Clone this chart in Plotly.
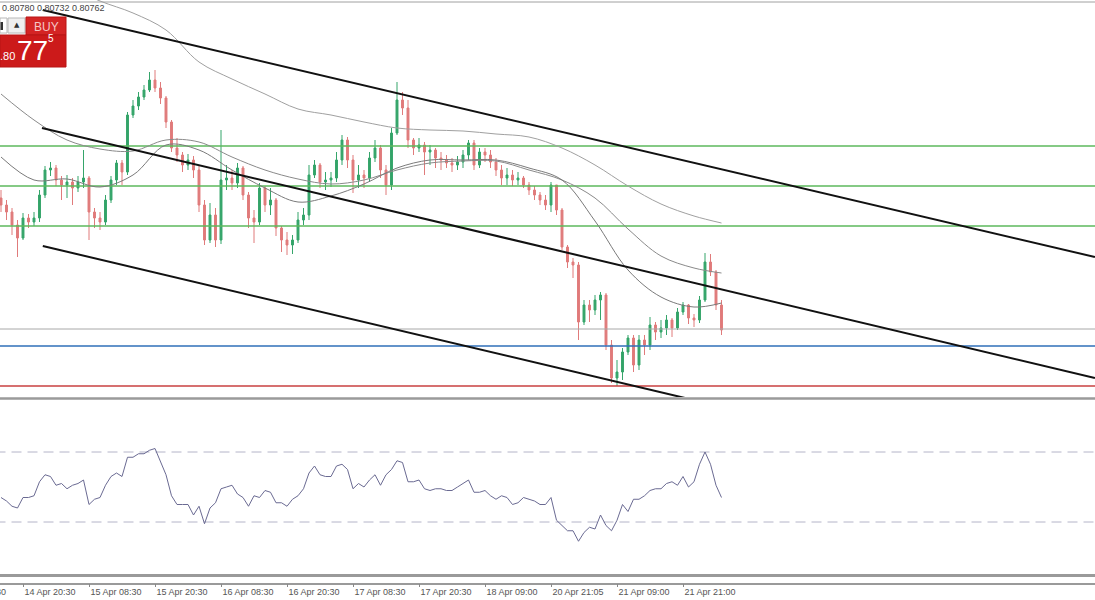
import plotly.graph_objects as go

# ---------------- data ----------------
first_open = 0.8202
close = [0.8195,0.8188,0.8175,0.8162,0.8182,0.8178,0.8182,0.8205,0.8230,0.8232,
         0.8220,0.8215,0.8218,0.8212,0.8218,0.8222,0.8188,0.8182,0.8178,0.8200,
         0.8220,0.8237,0.8228,0.8285,0.8294,0.8303,0.8310,0.8320,0.8312,0.8302,
         0.8278,0.8252,0.8245,0.8235,0.8240,0.8230,0.8195,0.8160,0.8185,0.8160,
         0.8220,0.8222,0.8217,0.8232,0.8205,0.8182,0.8178,0.8212,0.8195,0.8200,
         0.8172,0.8160,0.8155,0.8160,0.8180,0.8185,0.8225,0.8235,0.8218,0.8220,
         0.8222,0.8240,0.8260,0.8240,0.8220,0.8225,0.8222,0.8242,0.8252,0.8230,
         0.8215,0.8267,0.8300,0.8292,0.8260,0.8252,0.8255,0.8248,0.8250,0.8242,
         0.8240,0.8237,0.8235,0.8238,0.8245,0.8257,0.8235,0.8248,0.8245,0.8238,
         0.8230,0.8222,0.8225,0.8220,0.8222,0.8215,0.8210,0.8205,0.8200,0.8195,
         0.8215,0.8190,0.8153,0.8138,0.8135,0.8078,0.8095,0.8090,0.8100,0.8105,
         0.8055,0.8022,0.8028,0.8048,0.8062,0.8035,0.8060,0.8055,0.8075,0.8068,
         0.8072,0.8080,0.8072,0.8088,0.8095,0.8082,0.8080,0.8100,0.8138,0.8128,
         0.8095,0.8070]
high = [0.8210,0.8200,0.8192,0.8180,0.8187,0.8186,0.8188,0.8210,0.8234,0.8238,
        0.8235,0.8224,0.8225,0.8222,0.8224,0.8250,0.8224,0.8192,0.8188,0.8205,
        0.8224,0.8240,0.8240,0.8288,0.8300,0.8308,0.8315,0.8328,0.8330,0.8318,
        0.8304,0.8280,0.8262,0.8248,0.8246,0.8244,0.8235,0.8200,0.8197,0.8192,
        0.8270,0.8235,0.8230,0.8237,0.8234,0.8208,0.8190,0.8217,0.8214,0.8212,
        0.8202,0.8174,0.8168,0.8165,0.8188,0.8192,0.8235,0.8240,0.8237,0.8228,
        0.8228,0.8248,0.8265,0.8263,0.8245,0.8235,0.8230,0.8248,0.8260,0.8255,
        0.8235,0.8272,0.8318,0.8308,0.8300,0.8262,0.8262,0.8258,0.8255,0.8252,
        0.8248,0.8245,0.8242,0.8244,0.8250,0.8260,0.8260,0.8252,0.8252,0.8250,
        0.8242,0.8235,0.8232,0.8230,0.8228,0.8224,0.8218,0.8214,0.8208,0.8205,
        0.8218,0.8215,0.8192,0.8155,0.8142,0.8138,0.8100,0.8100,0.8105,0.8108,
        0.8107,0.8060,0.8040,0.8052,0.8065,0.8065,0.8065,0.8065,0.8083,0.8078,
        0.8080,0.8085,0.8082,0.8092,0.8098,0.8096,0.8086,0.8104,0.8147,0.8146,
        0.8130,0.8100]
low = [0.8188,0.8180,0.8165,0.8143,0.8160,0.8172,0.8174,0.8178,0.8202,0.8224,
       0.8214,0.8200,0.8202,0.8195,0.8208,0.8212,0.8160,0.8172,0.8170,0.8175,
       0.8197,0.8215,0.8215,0.8225,0.8282,0.8290,0.8300,0.8308,0.8308,0.8296,
       0.8272,0.8248,0.8238,0.8228,0.8230,0.8222,0.8188,0.8155,0.8157,0.8153,
       0.8156,0.8210,0.8210,0.8212,0.8200,0.8172,0.8157,0.8175,0.8188,0.8185,
       0.8164,0.8148,0.8145,0.8146,0.8157,0.8175,0.8180,0.8222,0.8212,0.8210,
       0.8213,0.8218,0.8235,0.8232,0.8207,0.8212,0.8212,0.8218,0.8238,0.8222,
       0.8205,0.8210,0.8265,0.8285,0.8252,0.8245,0.8248,0.8225,0.8235,0.8232,
       0.8230,0.8232,0.8228,0.8230,0.8232,0.8240,0.8230,0.8232,0.8238,0.8232,
       0.8224,0.8215,0.8215,0.8214,0.8215,0.8212,0.8205,0.8200,0.8195,0.8190,
       0.8188,0.8185,0.8150,0.8132,0.8122,0.8060,0.8075,0.8078,0.8085,0.8080,
       0.8050,0.8017,0.8014,0.8020,0.8045,0.8028,0.8030,0.8045,0.8050,0.8060,
       0.8062,0.8065,0.8063,0.8070,0.8085,0.8076,0.8073,0.8077,0.8098,0.8124,
       0.8090,0.8065]
opn = [first_open] + close[:-1]
bars = list(range(len(close)))

# moving averages sampled every 6 bars
ma_idx = [0,6,12,18,24,30,36,42,48,54,60,66,72,78,84,90,96,102,108,114,120,126,131]
ma_slow = [None,None,0.8414,0.8399,0.8387,0.8370,0.8338,0.8321,0.8306,0.8291,0.8285,0.8278,
           0.8272,0.8270,0.8269,0.8266,0.8263,0.8252,0.8235,0.8214,0.8196,0.8184,0.8177]
ma_mid = [0.8306,0.8280,0.8260,0.8251,0.8249,0.8260,0.8258,0.8243,0.8230,0.8221,0.8216,0.8220,
          0.8230,0.8237,0.8239,0.8239,0.8230,0.8220,0.8202,0.8171,0.8144,0.8132,0.8127]
ma_fast = [0.8243,0.8220,0.8221,0.8213,0.8225,0.8255,0.8250,0.8230,0.8212,0.8198,0.8204,0.8216,
           0.8232,0.8240,0.8240,0.8240,0.8232,0.8220,0.8179,0.8130,0.8103,0.8093,0.8097]

# RSI per bar
rsi = [44,42,39,38,44,44,45,53,57,56,
       51,52,49,51,52,54,40,43,44,51,
       56,58,56,67,67,69,69,71,72,65,
       57,45,40,40,40,34,39,29,38,41,
       49,50,51,46,44,39,45,44,48,47,
       41,41,39,43,45,49,58,62,57,56,
       56,62,63,60,49,52,50,54,57,51,
       57,60,65,64,53,53,54,49,48,49,
       49,48,48,50,52,54,47,47,48,45,
       43,45,44,40,41,44,43,42,40,40,
       44,31,28,25,25,19,24,27,26,34,
       28,25,31,40,36,43,43,45,48,49,
       49,52,53,51,56,50,53,63,70,63,
       51,44]
rsi_levels = [70, 30]

# horizontal price levels
green_levels = [0.8254, 0.8214, 0.8174]
gray_level = 0.8071
blue_level = 0.8054
red_level = 0.8014

# trend channel lines (two anchor points each: bar index, price)
chan_x = [7.6, 198.9]
chan_upper = [0.8390, 0.8143]
chan_mid_x = [7.45, 198.9]
chan_mid = [0.8272, 0.8022]
chan_low = [0.8154, 0.7905]

tick_bars = [4,16,28,40,52,64,76,88,100,112,124]
tick_text = ["14 Apr 20:30","15 Apr 08:30","15 Apr 20:30","16 Apr 08:30","16 Apr 20:30",
             "17 Apr 08:30","17 Apr 20:30","18 Apr 09:00","20 Apr 21:05","21 Apr 09:00","21 Apr 21:00"]

# ---------------- figure ----------------
W, H = 1095, 600
def px(x): return x / W
def py(y): return 1 - y / H

fig = go.Figure()

for g in green_levels:
    fig.add_trace(go.Scatter(x=[-1, 200], y=[g, g], mode="lines",
                             line=dict(color="#5cb85c", width=1.5), hoverinfo="skip"))
fig.add_trace(go.Scatter(x=[-1, 200], y=[gray_level]*2, mode="lines",
                         line=dict(color="#a8a8a8", width=1), hoverinfo="skip"))
fig.add_trace(go.Scatter(x=[-1, 200], y=[blue_level]*2, mode="lines",
                         line=dict(color="#2f6fb8", width=1.5), hoverinfo="skip"))
fig.add_trace(go.Scatter(x=[-1, 200], y=[red_level]*2, mode="lines",
                         line=dict(color="#c84040", width=1.3), hoverinfo="skip"))

fig.add_trace(go.Scatter(x=ma_idx, y=ma_slow, mode="lines", line=dict(color="#a0a0a0", width=1, shape="spline")))
fig.add_trace(go.Scatter(x=ma_idx, y=ma_mid, mode="lines", line=dict(color="#8a8a8a", width=1, shape="spline")))
fig.add_trace(go.Scatter(x=ma_idx, y=ma_fast, mode="lines", line=dict(color="#7a7a7a", width=1, shape="spline")))

fig.add_trace(go.Candlestick(
    x=bars, open=opn, high=high, low=low, close=close,
    increasing=dict(line=dict(color="#35a56a", width=1), fillcolor="#35a56a"),
    decreasing=dict(line=dict(color="#e07b7b", width=1), fillcolor="#e07b7b"),
    whiskerwidth=0))

fig.add_trace(go.Scatter(x=chan_x, y=chan_upper, mode="lines", line=dict(color="#111", width=2)))
fig.add_trace(go.Scatter(x=chan_mid_x, y=chan_mid, mode="lines", line=dict(color="#111", width=2)))
fig.add_trace(go.Scatter(x=chan_x, y=chan_low, mode="lines", line=dict(color="#111", width=2)))

# RSI
for lv in rsi_levels:
    fig.add_trace(go.Scatter(x=[-1, 200], y=[lv, lv], yaxis="y2", mode="lines",
                             line=dict(color="#b4b4c8", width=1, dash="10px,6px")))
fig.add_trace(go.Scatter(x=bars, y=rsi, yaxis="y2", mode="lines",
                         line=dict(color="#6a6a92", width=1)))

shapes = [
    dict(type="line", xref="paper", yref="paper", x0=0, x1=1, y0=py(2), y1=py(2),
         line=dict(color="#a0a0a0", width=1)),
    dict(type="line", xref="paper", yref="paper", x0=0, x1=1, y0=py(398.5), y1=py(398.5),
         line=dict(color="#9a9a9a", width=2.5)),
    dict(type="line", xref="paper", yref="paper", x0=0, x1=1, y0=py(575.5), y1=py(575.5),
         line=dict(color="#9a9a9a", width=3)),
    # one-click trading widget
    dict(type="rect", xref="paper", yref="paper", x0=px(0), x1=px(7), y0=py(33), y1=py(18),
         fillcolor="#ffffff", line=dict(color="#b8b8b8", width=1)),
    dict(type="rect", xref="paper", yref="paper", x0=px(0.5), x1=px(3), y0=py(30), y1=py(22),
         fillcolor="#333333", line=dict(width=0)),
    dict(type="rect", xref="paper", yref="paper", x0=px(8), x1=px(25), y0=py(33), y1=py(18),
         fillcolor="#f0f0f0", line=dict(color="#b8b8b8", width=1)),
    dict(type="rect", xref="paper", yref="paper", x0=px(26), x1=px(66), y0=py(35), y1=py(17),
         fillcolor="#d42424", line=dict(color="#b81414", width=1)),
    dict(type="rect", xref="paper", yref="paper", x0=px(0), x1=px(66), y0=py(67), y1=py(35),
         fillcolor="#cc1a1a", line=dict(color="#b81414", width=1)),
]

annotations = [
    dict(xref="paper", yref="paper", x=px(0), y=py(8.5), xanchor="left", yanchor="middle",
         text="0.80780 0.80732 0.80762", showarrow=False,
         font=dict(family="Liberation Sans", size=9, color="#444")),
    dict(xref="paper", yref="paper", x=px(16.5), y=py(25.5), xanchor="center", yanchor="middle",
         text="▲", showarrow=False, font=dict(family="DejaVu Sans", size=7, color="#333")),
    dict(xref="paper", yref="paper", x=px(46), y=py(27), xanchor="center", yanchor="middle",
         text="BUY", showarrow=False, font=dict(family="Liberation Sans", size=12, color="#f5c6c6")),
    dict(xref="paper", yref="paper", x=px(32.5), y=py(51), xanchor="center", yanchor="middle",
         text="77", showarrow=False, font=dict(family="Liberation Sans", size=28, color="#ffffff")),
    dict(xref="paper", yref="paper", x=px(51), y=py(39), xanchor="center", yanchor="middle",
         text="5", showarrow=False, font=dict(family="Liberation Sans", size=10, color="#ffffff")),
    dict(xref="paper", yref="paper", x=px(7), y=py(56.5), xanchor="center", yanchor="middle",
         text=".80", showarrow=False, font=dict(family="Liberation Sans", size=11, color="#ffffff")),
    dict(xref="paper", yref="paper", x=px(8), y=py(592), xanchor="right", yanchor="middle",
         text="14 Apr 08:30", showarrow=False, font=dict(family="Liberation Sans", size=9, color="#555")),
]

fig.update_layout(
    width=W, height=H, margin=dict(l=0, r=0, t=0, b=0),
    paper_bgcolor="#ffffff", plot_bgcolor="#ffffff", showlegend=False,
    boxgap=0.5,
    xaxis=dict(range=[-0.1818, 198.909], domain=[0, 1], anchor="free", position=py(583.5),
               showgrid=False, zeroline=False, showline=True, linecolor="#9a9a9a", linewidth=1.5,
               ticks="outside", ticklen=3, tickcolor="#888", tickwidth=1,
               tickvals=tick_bars, ticktext=tick_text, ticklabelshift=27, ticklabelstandoff=-3,
               tickfont=dict(family="Liberation Sans", size=9, color="#555"),
               rangeslider=dict(visible=False), fixedrange=True, automargin=False),
    yaxis=dict(domain=[py(397), 1], range=[0.8003, 0.8400], showgrid=False, zeroline=False,
               showticklabels=False, showline=False, fixedrange=True),
    yaxis2=dict(domain=[py(574.5), py(399.5)], range=[0, 100], showgrid=False, zeroline=False,
                showticklabels=False, showline=False, fixedrange=True, anchor="x"),
    shapes=shapes, annotations=annotations,
)

fig.write_html("out.html", config={"displayModeBar": False},
               post_script="document.body.style.margin='0';document.body.style.overflow='hidden';")
